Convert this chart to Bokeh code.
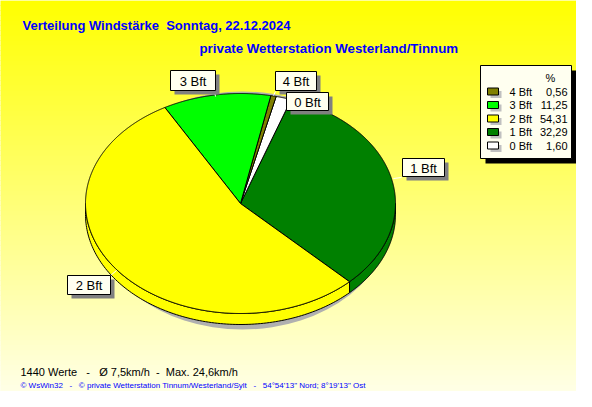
import numpy as np
from bokeh.plotting import figure
from bokeh.models import Range1d
from bokeh.core.properties import value
from bokeh.embed import file_html
from bokeh.resources import INLINE

# ---- data ----
labels = ["4 Bft", "3 Bft", "2 Bft", "1 Bft", "0 Bft"]
percent = [0.56, 11.25, 54.31, 32.29, 1.60]
percent_txt = ["0,56", "11,25", "54,31", "32,29", "1,60"]
colors = ["#808000", "#00FF00", "#FFFF00", "#008000", "#FFFFFF"]
pie_order = ["1 Bft", "0 Bft", "4 Bft", "3 Bft", "2 Bft"]  # counter-clockwise
title1 = "Verteilung Windstärke\u00a0\u00a0Sonntag, 22.12.2024"
title2 = "private Wetterstation Westerland/Tinnum"
stats = "1440 Werte\u00a0\u00a0\u00a0-\u00a0\u00a0\u00a0Ø 7,5km/h\u00a0\u00a0-\u00a0\u00a0Max. 24,6km/h"
footer = "\u00a9 WsWin32\u00a0\u00a0\u00a0-\u00a0\u00a0\u00a0\u00a9 private Wetterstation Tinnum/Westerland/Sylt\u00a0\u00a0\u00a0-\u00a0\u00a0\u00a054°54'13\" Nord; 8°19'13\" Ost"

# ---- layout ----
W, H = 576, 391
p = figure(width=W, height=H, x_range=Range1d(0, 576), y_range=Range1d(391, 0),
           output_backend="svg", toolbar_location=None, min_border=0)
p.axis.visible = False
p.grid.visible = False
p.outline_line_color = None
p.background_fill_color = "#FFFFF0"
p.border_fill_color = "#FFFFF0"

# background gradient
n = 80
edges = np.linspace(0, 400, n + 1)
gcols = []
for i in range(n):
    t = (edges[i] + edges[i + 1]) / 2 / 400
    b = int(round(235 * t))
    gcols.append("#FFFF%02X" % b)
p.quad(left=-10, right=600, top=edges[:-1] - 0.3, bottom=edges[1:] + 0.6, fill_color=gcols, line_color=None)

# pie geometry
cx, cy, rx, ry, depth = 240.0, 203.0, 155.0, 110.0, 11.0
start = np.deg2rad(-45.3)

# shadow
p.ellipse(x=[242], y=[210], width=[2 * 152], height=[2 * 119], fill_color="#B0B0B0", line_color=None)

pct = dict(zip(labels, percent))
col = dict(zip(labels, colors))
spans = []
a = start
for lab in pie_order:
    a1 = a + 2 * np.pi * pct[lab] / sum(percent)
    spans.append((lab, a, a1))
    a = a1

def ex(t):
    return cx + rx * np.cos(t)

def ey(t):
    return cy - ry * np.sin(t)

# sides (front half: angle in [pi, 2pi] mod 2pi)
side_xs, side_ys, side_c = [], [], []
for lab, a0, a1 in spans:
    for k in (-1, 0, 1):
        lo = max(a0, np.pi + 2 * np.pi * k)
        hi = min(a1, 2 * np.pi + 2 * np.pi * k)
        if hi > lo:
            t = np.linspace(lo, hi, 120)
            xs = list(ex(t)) + list(ex(t[::-1]))
            ys = list(ey(t)) + list(ey(t[::-1]) + depth)
            side_xs.append(xs)
            side_ys.append(ys)
            side_c.append(col[lab])
p.patches(side_xs, side_ys, fill_color=side_c, line_color="black", line_width=1)

# top faces
top_xs, top_ys, top_c = [], [], []
for lab, a0, a1 in spans:
    t = np.linspace(a0, a1, max(int(300 * (a1 - a0)), 4))
    top_xs.append([cx] + list(ex(t)))
    top_ys.append([cy] + list(ey(t)))
    top_c.append(col[lab])
p.patches(top_xs, top_ys, fill_color=top_c, line_color="black", line_width=1)

# slice labels
box_l = {"3 Bft": 170, "4 Bft": 275, "0 Bft": 286, "1 Bft": 402, "2 Bft": 67}
box_r = {"3 Bft": 215, "4 Bft": 316, "0 Bft": 328, "1 Bft": 444, "2 Bft": 110}
box_t = {"3 Bft": 70, "4 Bft": 71, "0 Bft": 92, "1 Bft": 158, "2 Bft": 275}
box_b = {"3 Bft": 90, "4 Bft": 90, "0 Bft": 110, "1 Bft": 176, "2 Bft": 294}
lead = {"3 Bft": ([214, 215], [91, 96]), "4 Bft": ([275, 273], [91, 95]),
        "1 Bft": ([393, 401], [178, 177]), "2 Bft": ([110, 116], [275, 270])}
for lab, (lx, ly) in lead.items():
    p.line(lx, ly, line_color="white", line_width=1)
bl = [box_l[k] for k in labels]
br = [box_r[k] for k in labels]
bt = [box_t[k] for k in labels]
bb = [box_b[k] for k in labels]
p.quad(left=[v + 4 for v in bl], right=[v + 4 for v in br], top=[v + 4 for v in bt],
       bottom=[v + 4 for v in bb], fill_color="#808080", line_color=None)
p.quad(left=bl, right=br, top=bt, bottom=bb, fill_color="#FFFFF0", line_color="black", line_width=1)
p.text(x=[(l + r) / 2 for l, r in zip(bl, br)], y=[(t + b) / 2 + 0.5 for t, b in zip(bt, bb)],
       text=labels, text_font=value("Liberation Sans"), text_font_size="13px",
       text_align="center", text_baseline="middle", text_color="black")

# legend
p.quad(left=[485], right=[576], top=[70], bottom=[163], fill_color="black", line_color=None)
p.quad(left=[480], right=[571], top=[65], bottom=[158], fill_color="#FFFFF0", line_color="black")
rows = [91, 104.5, 118, 131.5, 145]
p.quad(left=[490] * 5, right=[501] * 5, top=[r - 0.5 for r in rows], bottom=[r + 6.5 for r in rows],
       fill_color="#C0C0C0", line_color=None)
p.quad(left=[487] * 5, right=[498] * 5, top=[r - 3.5 for r in rows], bottom=[r + 3.5 for r in rows],
       fill_color=colors, line_color="black")
p.text(x=[550], y=[77], text=["%"], text_font=value("Liberation Sans"), text_font_size="11px",
       text_align="center", text_baseline="middle", text_color="black")
p.text(x=[509] * 5, y=rows, text=labels, text_font=value("Liberation Sans"), text_font_size="11px",
       text_align="left", text_baseline="middle", text_color="black")
p.text(x=[567] * 5, y=rows, text=percent_txt, text_font=value("Liberation Sans"), text_font_size="11px",
       text_align="right", text_baseline="middle", text_color="black")

# titles
p.text(x=[22], y=[25], text=[title1], text_font=value("Liberation Sans"), text_font_size="13px",
       text_font_style="bold", text_align="left", text_baseline="middle", text_color="#0000FF")
p.text(x=[199], y=[48], text=[title2], text_font=value("Liberation Sans"), text_font_size="13.3px",
       text_font_style="bold", text_align="left", text_baseline="middle", text_color="#0000FF")
p.text(x=[20], y=[371], text=[stats], text_font=value("Liberation Sans"), text_font_size="11px",
       text_align="left", text_baseline="middle", text_color="black")
p.text(x=[20], y=[384.5], text=[footer], text_font=value("Liberation Sans"), text_font_size="8px",
       text_align="left", text_baseline="middle", text_color="#0000FF")

open("out.html", "w").write(file_html(p, INLINE))
